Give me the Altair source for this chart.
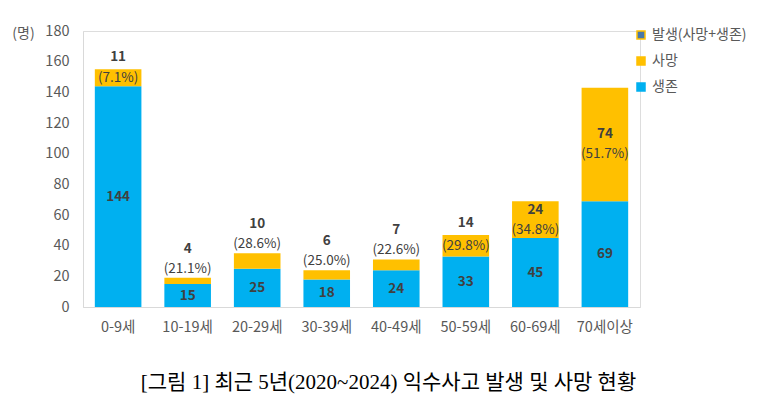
import altair as alt
import pandas as pd

ages = ["0-9세", "10-19세", "20-29세", "30-39세", "40-49세", "50-59세", "60-69세", "70세이상"]
survived = [144, 15, 25, 18, 24, 33, 45, 69]
deaths = [11, 4, 10, 6, 7, 14, 24, 74]
death_pct = [7.1, 21.1, 28.6, 25.0, 22.6, 29.8, 34.8, 51.7]
y_ticks = [0, 20, 40, 60, 80, 100, 120, 140, 160, 180]

K_ALL = "발생(사망+생존)"
K_DEATH = "사망"
K_SURV = "생존"

BLUE = "#00B0F0"
ORANGE = "#FFC000"
FONT = "Noto Sans CJK KR"

rows = []
for a, s, d in zip(ages, survived, deaths):
    rows.append({"age": a, "kind": K_SURV, "value": s, "ord": 0})
    rows.append({"age": a, "kind": K_DEATH, "value": d, "ord": 1})
bars_df = pd.DataFrame(rows)

lab = pd.DataFrame({"age": ages, "s": survived, "d": deaths, "p": death_pct})
lab["top"] = lab["s"] + lab["d"]
lab["mid_d"] = lab["s"] + lab["d"] / 2
lab["mid_s"] = lab["s"] / 2
lab["pct_txt"] = lab["p"].map(lambda v: f"({v:.1f}%)")
lab["grp"] = lab["d"].map(lambda v: "above" if v < 11 else ("mid" if v < 20 else "inside"))

x_axis = alt.Axis(labelAngle=0, ticks=False, labelPadding=13, labelFontSize=14.5,
                  labelColor="#595959", labelFont=FONT, domainColor="#D9D9D9")
x_scale = alt.Scale(paddingInner=0.33, paddingOuter=0.17)

y_axis = alt.Axis(values=y_ticks, grid=False, ticks=False, tickCount=10,
                  labelOverlap=False, labelBound=False, labelFlush=False,
                  labelPadding=14, labelFontSize=14.5, labelColor="#595959", labelFont=FONT,
                  domainColor="#D9D9D9", titleAngle=0, titleFontSize=14, titleFont=FONT,
                  titleFontWeight="normal", titleColor="#595959", titleX=-60, titleY=2,
                  titleAlign="center", titleBaseline="middle")
y_scale = alt.Scale(domain=[0, 180], nice=False)


def X():
    return alt.X("age:N", sort=ages, title=None, scale=x_scale, axis=x_axis)


def Y(field, **kw):
    return alt.Y(field, title="(명)", scale=y_scale, axis=y_axis, **kw)


legend_kw = dict(title=None, orient="none", legendX=551, legendY=-3,
                 symbolType="square", symbolSize=64, labelFontSize=14,
                 labelFont=FONT, labelColor="#595959", rowPadding=12,
                 symbolStrokeWidth=1.5)

bars = alt.Chart(bars_df).mark_bar(strokeWidth=0).encode(
    x=X(),
    y=Y("value:Q", stack="zero"),
    color=alt.Color("kind:N",
                    scale=alt.Scale(domain=[K_ALL, K_DEATH, K_SURV], range=["#4a78a8", ORANGE, BLUE]),
                    legend=alt.Legend(**legend_kw)),
    stroke=alt.Stroke("kind:N",
                      scale=alt.Scale(domain=[K_ALL, K_DEATH, K_SURV], range=[ORANGE, ORANGE, BLUE]),
                      legend=alt.Legend(**legend_kw)),
    order=alt.Order("ord:Q"),
)

base = alt.Chart(lab)

surv_txt = base.mark_text(fontSize=13.5, fontWeight="bold", color="#404040", font=FONT,
                          baseline="middle").encode(x=X(), y=Y("mid_s:Q"), text="s:Q")

f_above = alt.datum.grp == "above"
f_mid = alt.datum.grp == "mid"
f_in = alt.datum.grp == "inside"

cnt_kw = dict(fontSize=13.5, fontWeight="bold", color="#404040", font=FONT, baseline="middle")
pct_kw = dict(fontSize=13.5, color="#404040", font=FONT, baseline="middle")

above_cnt = base.transform_filter(f_above).mark_text(dy=-29, **cnt_kw).encode(
    x=X(), y=Y("top:Q"), text="d:Q")
above_pct = base.transform_filter(f_above).mark_text(dy=-9, **pct_kw).encode(
    x=X(), y=Y("top:Q"), text="pct_txt:N")
mid_cnt = base.transform_filter(f_mid).mark_text(dy=-12, **cnt_kw).encode(
    x=X(), y=Y("top:Q"), text="d:Q")
mid_pct = base.transform_filter(f_mid).mark_text(dy=0, **pct_kw).encode(
    x=X(), y=Y("mid_d:Q"), text="pct_txt:N")
in_cnt = base.transform_filter(f_in).mark_text(dy=-10, **cnt_kw).encode(
    x=X(), y=Y("mid_d:Q"), text="d:Q")
in_pct = base.transform_filter(f_in).mark_text(dy=10, **pct_kw).encode(
    x=X(), y=Y("mid_d:Q"), text="pct_txt:N")

chart = alt.layer(bars, surv_txt, above_cnt, above_pct, mid_cnt, mid_pct, in_cnt, in_pct).properties(
    width=557, height=276,
    autosize=alt.AutoSizeParams(type="none"),
    padding={"left": 75, "top": 23, "right": 132, "bottom": 97},
    title=alt.TitleParams("[그림 1] 최근 5년(2020~2024) 익수사고 발생 및 사망 현황",
                          orient="bottom", anchor="middle", fontSize=21, fontWeight="normal",
                          font="Liberation Serif, Noto Sans CJK KR", color="#000000",
                          offset=38, dx=27),
).configure_view(stroke=None).configure(background="white")

chart.save("out.html", embed_options={"renderer": "svg", "actions": False})
